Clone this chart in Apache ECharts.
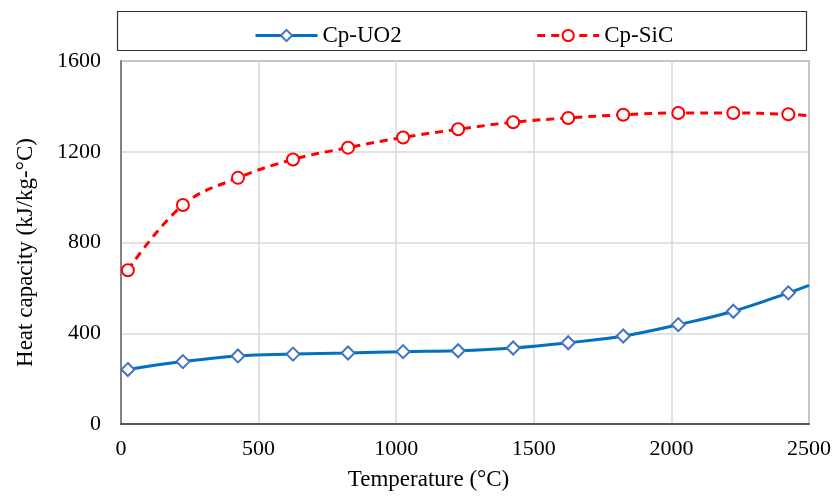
<!DOCTYPE html>
<html>
<head>
<meta charset="utf-8">
<script src="https://cdn.jsdelivr.net/npm/echarts@6/dist/echarts.min.js"></script>
<style>
html,body{margin:0;padding:0;background:#fff;}
#chart{width:834px;height:499px;}
</style>
</head>
<body>
<div id="chart"></div>
<script>
// Data
const temperatures = [25, 225, 425, 625, 825, 1025, 1225, 1425, 1625, 1825, 2025, 2225, 2425, 2500];
const cpUO2 = [240, 275, 300, 308, 313, 319, 323, 335, 358, 388, 438, 497, 578, 611];
const cpSiC = [678, 965, 1085, 1166, 1218, 1263, 1299, 1330, 1349, 1363, 1371, 1371, 1365, 1359];
const seriesNames = ['Cp-UO2', 'Cp-SiC'];
const xTicks = [0, 500, 1000, 1500, 2000, 2500];
const yTicks = [0, 400, 800, 1200, 1600];

function buildPoints(vals) {
  return temperatures.map((t, i) => {
    const item = { value: [t, vals[i]] };
    if (i === temperatures.length - 1) item.symbol = 'none';
    return item;
  });
}

const font = 'Liberation Serif, Times New Roman, serif';
const chart = echarts.init(document.getElementById('chart'));
chart.setOption({
  animation: false,
  backgroundColor: '#fff',
  grid: {
    left: 121, right: 25, top: 61, bottom: 75,
    show: true, borderColor: '#6b6b6b', borderWidth: 1.5
  },
  graphic: [{
    type: 'rect',
    shape: { x: 117.5, y: 11.5, width: 689, height: 39 },
    style: { fill: 'none', stroke: '#333', lineWidth: 1.2 },
    silent: true
  }],
  legend: {
    left: 249, top: 19,
    itemWidth: 62, itemHeight: 14, itemGap: 134,
    lineStyle: { width: 3 },
    textStyle: { fontFamily: font, fontSize: 23, color: '#000' },
    data: seriesNames
  },
  xAxis: {
    type: 'value',
    min: xTicks[0], max: xTicks[xTicks.length - 1], interval: 500,
    name: 'Temperature (°C)',
    nameLocation: 'middle', nameGap: 44,
    nameTextStyle: { fontFamily: font, fontSize: 23, color: '#000', padding: [0, 73, 0, 0] },
    axisLine: { show: true, lineStyle: { color: '#333', width: 1.5 } },
    axisTick: { show: false },
    axisLabel: { fontFamily: font, fontSize: 22, color: '#000', margin: 14, formatter: v => String(v) },
    splitLine: { show: true, lineStyle: { color: '#d9d9d9', width: 1.5 } }
  },
  yAxis: {
    type: 'value',
    min: yTicks[0], max: yTicks[yTicks.length - 1], interval: 400,
    name: 'Heat capacity (kJ/kg-°C)',
    nameLocation: 'middle', nameGap: 84,
    nameTextStyle: { fontFamily: font, fontSize: 23, color: '#000', padding: [0, 20, 0, 0] },
    axisLine: { show: true, lineStyle: { color: '#6b6b6b', width: 1.5 } },
    axisTick: { show: false },
    axisLabel: { fontFamily: font, fontSize: 22, color: '#000', margin: 20, formatter: v => String(v) },
    splitLine: { show: true, lineStyle: { color: '#d9d9d9', width: 1.5 } }
  },
  series: [
    {
      name: seriesNames[0], type: 'line', smooth: 0.4,
      data: buildPoints(cpUO2),
      symbol: 'diamond', symbolSize: 13,
      lineStyle: { color: '#0070C0', width: 3 },
      itemStyle: { color: '#fff', borderColor: '#4472C4', borderWidth: 2 },
      z: 3
    },
    {
      name: seriesNames[1], type: 'line', smooth: 0.4,
      data: buildPoints(cpSiC),
      symbol: 'circle', symbolSize: 12,
      lineStyle: { color: '#FF0000', width: 3, type: [8, 6] },
      itemStyle: { color: '#fff', borderColor: '#FF0000', borderWidth: 2 },
      z: 4
    }
  ]
});
</script>
</body>
</html>
